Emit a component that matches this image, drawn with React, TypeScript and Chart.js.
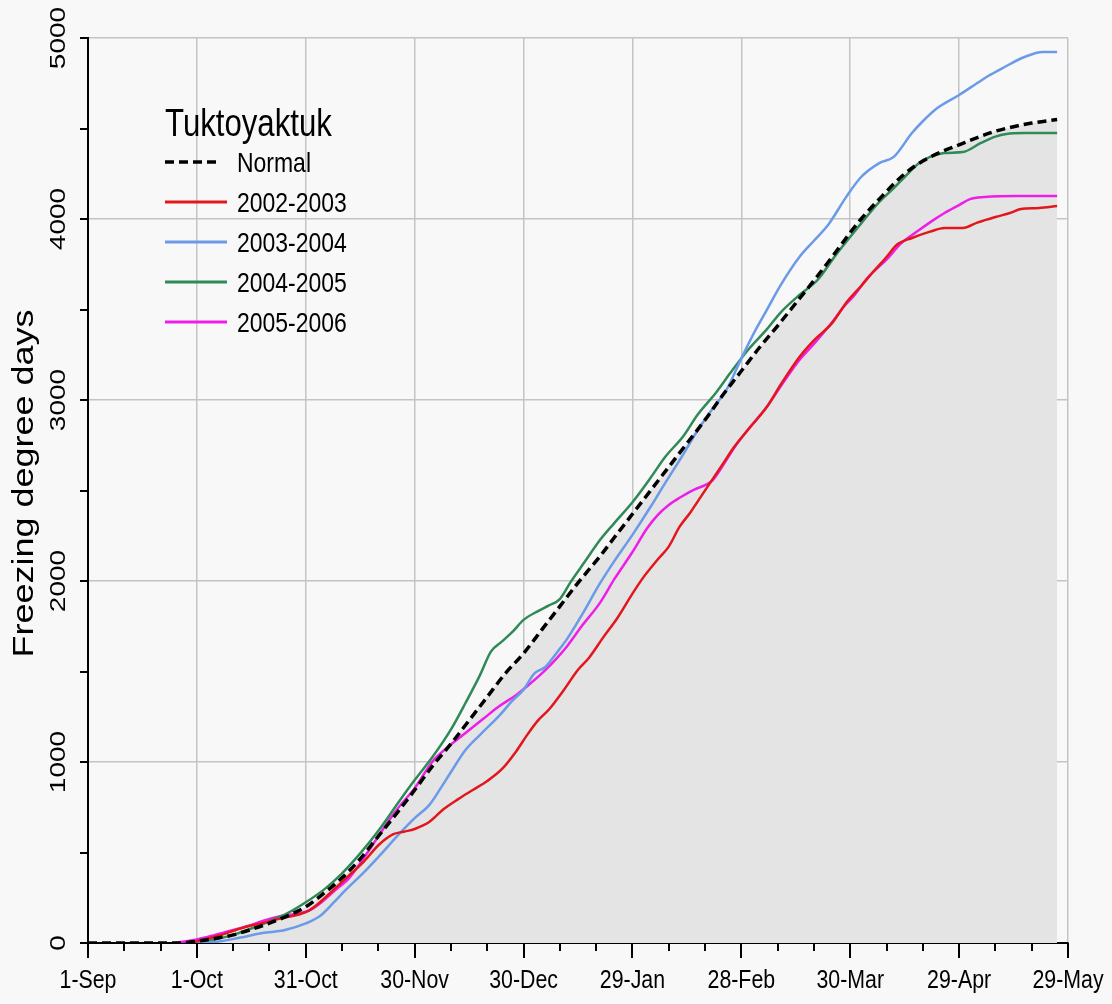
import React, { useEffect, useRef } from 'react';
import { Chart, registerables } from 'chart.js';

Chart.register(...registerables);

// ---- labels ----
const xTickLabels = ['1-Sep', '1-Oct', '31-Oct', '30-Nov', '30-Dec', '29-Jan', '28-Feb', '30-Mar', '29-Apr', '29-May'];
const legendTitle = 'Tuktoyaktuk';
const yAxisTitle = 'Freezing degree days';
const seriesLabels = ['Normal', '2002-2003', '2003-2004', '2004-2005', '2005-2006'];

// ---- data: x = days since 1-Sep, y = freezing degree days ----
const normalDays = [0, 25, 30, 35, 40, 45, 50, 55, 60, 65, 70, 75, 80, 85, 90, 95, 100, 105, 110, 115, 120, 125, 130, 135, 141, 145, 150, 155, 160, 165, 170, 175, 180, 185, 190, 196, 200, 205, 210, 213, 218, 225, 230, 235, 240, 245, 250, 255, 260, 267];
const normalFdd = [0, 0, 10, 25, 45, 75, 110, 150, 200, 275, 360, 465, 590, 715, 845, 980, 1100, 1230, 1360, 1490, 1600, 1730, 1860, 1990, 2135, 2240, 2370, 2500, 2630, 2760, 2890, 3030, 3160, 3290, 3410, 3560, 3660, 3790, 3925, 4000, 4110, 4250, 4320, 4370, 4410, 4450, 4485, 4510, 4530, 4550];

const red0203Days = [27, 30, 36, 42, 48, 54, 60, 63, 68, 72, 76, 80, 84, 87, 90, 94, 98, 102, 106, 110, 114, 118, 121, 124, 127, 131, 135, 138, 142, 146, 150, 153, 157, 160, 163, 166, 169, 172, 175, 178, 182, 187, 191, 196, 200, 205, 209, 213, 216, 220, 223, 227, 232, 236, 241, 245, 250, 254, 257, 262, 267];
const red0203Fdd = [0, 10, 40, 80, 110, 140, 170, 210, 300, 375, 450, 540, 600, 615, 630, 668, 740, 795, 845, 895, 960, 1060, 1150, 1230, 1290, 1395, 1510, 1575, 1690, 1800, 1930, 2020, 2120, 2190, 2300, 2380, 2470, 2560, 2650, 2740, 2840, 2961, 3090, 3238, 3330, 3425, 3540, 3630, 3700, 3790, 3860, 3895, 3930, 3950, 3950, 3980, 4011, 4033, 4055, 4061, 4072];

const blue0304Days = [30, 36, 42, 48, 54, 60, 64, 68, 71, 76, 80, 86, 90, 94, 97, 100, 104, 108, 113, 117, 120, 123, 126, 129, 132, 136, 141, 145, 150, 155, 159, 164, 168, 172, 176, 180, 184, 187, 191, 196, 200, 204, 209, 213, 218, 222, 227, 230, 234, 240, 245, 248, 252, 258, 263, 267];
const blue0304Fdd = [0, 8, 30, 55, 70, 108, 150, 230, 293, 390, 475, 608, 690, 762, 850, 945, 1066, 1150, 1249, 1340, 1400, 1490, 1525, 1600, 1680, 1810, 1985, 2110, 2255, 2410, 2541, 2700, 2834, 2950, 3060, 3230, 3390, 3497, 3640, 3790, 3880, 3970, 4125, 4232, 4309, 4343, 4475, 4540, 4613, 4685, 4751, 4790, 4834, 4895, 4923, 4923];

const green0405Days = [27, 32, 36, 40, 45, 50, 55, 60, 65, 70, 75, 80, 86, 90, 95, 100, 104, 108, 111, 114, 117, 120, 124, 127, 130, 133, 137, 141, 145, 150, 155, 159, 164, 168, 173, 177, 182, 187, 191, 196, 201, 206, 212, 218, 222, 225, 229, 232, 236, 241, 246, 250, 253, 258, 267];
const green0405Fdd = [0, 8, 25, 45, 80, 120, 165, 225, 295, 385, 495, 620, 790, 900, 1030, 1180, 1326, 1480, 1610, 1665, 1720, 1785, 1834, 1865, 1900, 1995, 2110, 2225, 2320, 2435, 2570, 2685, 2800, 2920, 3040, 3150, 3280, 3390, 3487, 3580, 3663, 3800, 3950, 4094, 4170, 4232, 4309, 4343, 4365, 4370, 4420, 4455, 4470, 4475, 4475];

const magenta0506Days = [24, 30, 35, 40, 45, 49, 53, 57, 61, 64, 68, 72, 76, 80, 83, 86, 90, 95, 99, 104, 109, 113, 118, 122, 126, 129, 132, 136, 141, 145, 150, 154, 157, 160, 163, 167, 170, 172, 175, 178, 182, 187, 191, 196, 200, 205, 208, 211, 215, 220, 224, 229, 233, 236, 240, 243, 247, 256, 267];
const magenta0506Fdd = [0, 20, 45, 72, 100, 127, 148, 160, 180, 220, 290, 360, 470, 590, 680, 760, 855, 1005, 1080, 1160, 1240, 1304, 1370, 1436, 1508, 1570, 1640, 1750, 1878, 2010, 2160, 2290, 2365, 2420, 2460, 2505, 2530, 2555, 2640, 2735, 2840, 2961, 3080, 3221, 3310, 3430, 3510, 3575, 3680, 3775, 3865, 3939, 3995, 4033, 4077, 4110, 4121, 4127, 4127];

const seriesColors = ['#000000', '#e3161b', '#6b9ae8', '#2f8a58', '#ee1ee8'];

const REGULAR = '"Liberation Sans", Arial, sans-serif';
const SQUEEZE = 0.82; // horizontal compression of the reference's lettering

function toPoints(days: number[], vals: number[]) {
  return days.map((d, i) => ({ x: d, y: vals[i] }));
}

function squeezedText(ctx: CanvasRenderingContext2D, text: string, x: number, y: number, align: CanvasTextAlign) {
  ctx.save();
  ctx.translate(x, y);
  ctx.scale(SQUEEZE, 1);
  ctx.textAlign = align;
  ctx.textBaseline = 'alphabetic';
  ctx.fillText(text, 0, 0);
  ctx.restore();
}

const decorPlugin = {
  id: 'decor',
  beforeDraw(chart: any) {
    const ctx = chart.ctx;
    ctx.save();
    ctx.fillStyle = '#f8f8f8';
    ctx.fillRect(0, 0, chart.width, chart.height);
    ctx.restore();
  },
  afterDraw(chart: any) {
    const ctx = chart.ctx;
    const xs = chart.scales.x;
    const ys = chart.scales.y;
    ctx.save();
    // tick marks (major + minor)
    ctx.strokeStyle = '#000';
    ctx.lineWidth = 2;
    for (let d = xs.min; d <= xs.max; d += 10) {
      const px = Math.round(xs.getPixelForValue(d));
      const len = d % 30 === 0 ? 15 : 8;
      ctx.beginPath();
      ctx.moveTo(px, ys.bottom);
      ctx.lineTo(px, ys.bottom + len);
      ctx.stroke();
    }
    for (let v = ys.min; v <= ys.max; v += 500) {
      const py = Math.round(ys.getPixelForValue(v));
      ctx.beginPath();
      ctx.moveTo(xs.left - 8, py);
      ctx.lineTo(xs.left, py);
      ctx.stroke();
    }
    ctx.fillStyle = '#000';
    // x tick labels
    ctx.font = `26px ${REGULAR}`;
    xs.ticks.forEach((t: any) => {
      const px = xs.getPixelForValue(t.value);
      const label = xTickLabels[Math.round(t.value / 30)] ?? '';
      squeezedText(ctx, label, px, ys.bottom + 45, 'center');
    });
    // y tick labels (rotated)
    ctx.font = `28px ${REGULAR}`;
    ctx.textAlign = 'center';
    ctx.textBaseline = 'alphabetic';
    ys.ticks.forEach((t: any) => {
      const py = ys.getPixelForValue(t.value);
      ctx.save();
      ctx.translate(xs.left - 23, py);
      ctx.scale(0.8, 1);
      ctx.rotate(-Math.PI / 2);
      ctx.fillText(String(t.value), 0, 0);
      ctx.restore();
    });
    // y axis title
    ctx.save();
    ctx.font = `36px ${REGULAR}`;
    ctx.translate(33, (ys.top + ys.bottom) / 2 - 7);
    ctx.scale(0.8, 1);
    ctx.rotate(-Math.PI / 2);
    ctx.fillText(yAxisTitle, 0, 0);
    ctx.restore();
    // legend
    const lx = xs.left + 77;
    ctx.font = `38px ${REGULAR}`;
    squeezedText(ctx, legendTitle, lx, 136, 'left');
    chart.data.datasets.forEach((ds: any, i: number) => {
      const ly = 162 + i * 40;
      ctx.save();
      ctx.strokeStyle = ds.borderColor;
      ctx.lineWidth = i === 0 ? 3.5 : 3;
      ctx.setLineDash(ds.borderDash || []);
      ctx.beginPath();
      ctx.moveTo(lx, ly);
      ctx.lineTo(lx + (i === 0 ? 56 : 62), ly);
      ctx.stroke();
      ctx.restore();
      ctx.font = `28px ${REGULAR}`;
      ctx.fillStyle = '#000';
      squeezedText(ctx, ds.label, lx + 72, ly + 10, 'left');
    });
    ctx.restore();
  },
};

export default function App() {
  const canvasRef = useRef<HTMLCanvasElement | null>(null);

  useEffect(() => {
    const canvas = canvasRef.current;
    if (!canvas) return;
    const seriesData = [
      toPoints(normalDays, normalFdd),
      toPoints(red0203Days, red0203Fdd),
      toPoints(blue0304Days, blue0304Fdd),
      toPoints(green0405Days, green0405Fdd),
      toPoints(magenta0506Days, magenta0506Fdd),
    ];
    const datasets = seriesData.map((data, i) => ({
      label: seriesLabels[i],
      data,
      borderColor: seriesColors[i],
      backgroundColor: i === 0 ? '#e4e4e4' : 'transparent',
      borderWidth: i === 0 ? 3.5 : 2.5,
      borderDash: i === 0 ? [9, 5] : [],
      fill: i === 0 ? 'origin' : false,
      pointRadius: 0,
      cubicInterpolationMode: 'monotone' as const,
    }));

    const chart = new Chart(canvas, {
      type: 'line',
      data: { datasets },
      options: {
        responsive: false,
        animation: false,
        devicePixelRatio: 1,
        layout: { padding: { top: 38, right: 44, left: 0, bottom: 0 } },
        plugins: {
          legend: { display: false },
          tooltip: { enabled: false },
          filler: { drawTime: 'beforeDatasetsDraw' },
        },
        scales: {
          x: {
            type: 'linear',
            min: 0,
            max: 270,
            afterFit: (s: any) => { s.height = 61; },
            ticks: { stepSize: 30, autoSkip: false, display: false },
            grid: { color: '#c4c4c4', lineWidth: 1.5, drawTicks: false },
            border: { color: '#000', width: 2 },
          },
          y: {
            min: 0,
            max: 5000,
            afterFit: (s: any) => { s.width = 88; },
            ticks: { stepSize: 1000, display: false },
            grid: { color: '#c4c4c4', lineWidth: 1.5, drawTicks: false },
            border: { color: '#000', width: 2 },
          },
        },
      } as any,
      plugins: [decorPlugin],
    });
    return () => chart.destroy();
  }, []);

  return (
    <div style={{ position: 'absolute', left: 0, top: 0, width: 1112, height: 1004 }}>
      <canvas ref={canvasRef} width={1112} height={1004} style={{ display: 'block' }} />
    </div>
  );
}
